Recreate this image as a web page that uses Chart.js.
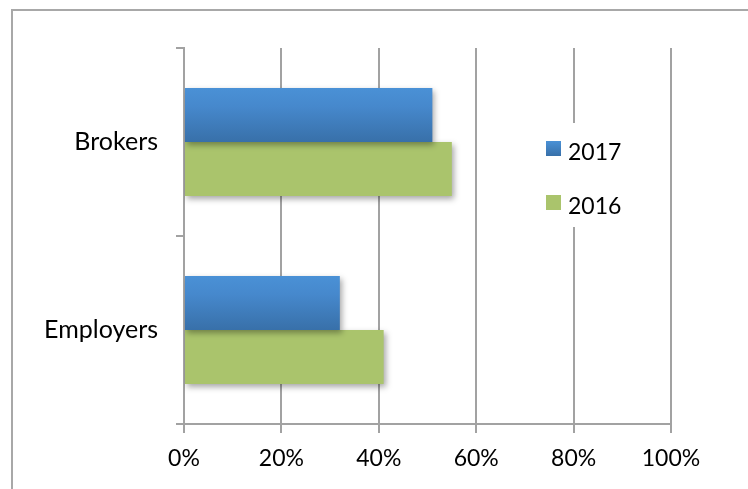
<!DOCTYPE html>
<html>
<head>
<meta charset="utf-8">
<script src="https://cdn.jsdelivr.net/npm/chart.js@4"></script>
<style>
  html, body { margin: 0; padding: 0; background: #ffffff; }
  #wrap { width: 748px; height: 489px; position: relative; }
</style>
</head>
<body>
<div id="wrap"><canvas id="chart" width="748" height="489"></canvas></div>
<script>
// Data
const CATEGORIES = ['Brokers', 'Employers'];
const SERIES_2017 = [51, 32];
const SERIES_2016 = [55, 41];
const SERIES_LABELS = ['2017', '2016'];
const X_TICKS = [0, 20, 40, 60, 80, 100];

// Colors
const BLUE_TOP = '#4a91d6';
const BLUE_BOTTOM = '#3870a9';
const GREEN = '#aac46c';
const GRID_COLOR = '#a2a2a2';
const BORDER_COLOR = '#a8a8a8';
const TEXT_COLOR = '#000000';

// Fonts
const FONT_FAMILY = 'Lato, "Open Sans", sans-serif';
const LABEL_SIZE = 25;
const TICK_SIZE = 23;
const LEGEND_SIZE = 23;

// Layout
const CAT_PCT = 0.575;
const AXIS_LEFT_WIDTH = 184;
const AXIS_BOTTOM_HEIGHT = 65;

const blueGradient = (context) => {
    const chart = context.chart;
    const yScale = chart.scales.y;
    if (!chart.chartArea || !yScale) return BLUE_TOP;
    const band = (yScale.bottom - yScale.top) / CATEGORIES.length;
    const center = yScale.getPixelForValue(context.dataIndex);
    const top = center - band * CAT_PCT / 2;
    const grad = chart.ctx.createLinearGradient(0, top, 0, center);
    grad.addColorStop(0, BLUE_TOP);
    grad.addColorStop(0.35, '#4688cc');
    grad.addColorStop(1, BLUE_BOTTOM);
    return grad;
};

// Plugins
const frame = {
    id: 'frame',
    beforeDraw(chart) {
        const ctx = chart.ctx;
        ctx.save();
        ctx.strokeStyle = BORDER_COLOR;
        ctx.lineWidth = 2;
        ctx.beginPath();
        ctx.moveTo(12, chart.height + 5);
        ctx.lineTo(12, 10);
        ctx.lineTo(chart.width + 5, 10);
        ctx.stroke();
        ctx.restore();
    }
};

const barShadow = {
    id: 'barShadow',
    beforeDatasetDraw(chart) {
        const ctx = chart.ctx;
        ctx.save();
        ctx.shadowColor = 'rgba(0, 0, 0, 0.35)';
        ctx.shadowBlur = 6;
        ctx.shadowOffsetX = 2;
        ctx.shadowOffsetY = 3;
    },
    afterDatasetDraw(chart) {
        chart.ctx.restore();
    }
};

const insideLegend = {
    id: 'insideLegend',
    afterDraw(chart) {
        const ctx = chart.ctx;
        const items = [
            { text: SERIES_LABELS[0], color: BLUE_TOP, y: 141 },
            { text: SERIES_LABELS[1], color: GREEN, y: 195 }
        ];
        ctx.save();
        ctx.fillStyle = '#ffffff';
        ctx.fillRect(536, 123, 96, 104);
        ctx.font = `${LEGEND_SIZE}px ${FONT_FAMILY}`;
        ctx.textBaseline = 'alphabetic';
        for (const item of items) {
            if (item.text === SERIES_LABELS[0]) {
                const g = ctx.createLinearGradient(0, item.y, 0, item.y + 15);
                g.addColorStop(0, BLUE_TOP);
                g.addColorStop(1, BLUE_BOTTOM);
                ctx.fillStyle = g;
            } else {
                ctx.fillStyle = item.color;
            }
            ctx.fillRect(546, item.y, 15, 15);
            ctx.fillStyle = TEXT_COLOR;
            ctx.fillText(item.text, 568, item.y + 19);
        }
        ctx.restore();
    }
};

const data = {
    labels: CATEGORIES,
    datasets: [
        {
            label: SERIES_LABELS[0],
            data: SERIES_2017,
            backgroundColor: blueGradient,
            borderWidth: 0
        },
        {
            label: SERIES_LABELS[1],
            data: SERIES_2016,
            backgroundColor: GREEN,
            borderWidth: 0
        }
    ]
};

const options = {
    indexAxis: 'y',
    responsive: false,
    animation: false,
    events: [],
    layout: {
        padding: { top: 48, right: 77, left: 0, bottom: 0 }
    },
    datasets: {
        bar: {
            categoryPercentage: CAT_PCT,
            barPercentage: 1.0
        }
    },
    scales: {
        x: {
            type: 'linear',
            min: 0,
            max: 100,
            afterBuildTicks: (scale) => {
                scale.ticks = X_TICKS.map(v => ({ value: v }));
            },
            afterFit: (scale) => { scale.height = AXIS_BOTTOM_HEIGHT; },
            border: { display: true, color: GRID_COLOR, width: 2 },
            grid: {
                color: GRID_COLOR,
                lineWidth: 2,
                tickLength: 9,
                drawTicks: true
            },
            ticks: {
                callback: (v) => v + '%',
                color: TEXT_COLOR,
                padding: 12,
                maxRotation: 0,
                font: { family: FONT_FAMILY, size: TICK_SIZE }
            }
        },
        y: {
            type: 'category',
            afterFit: (scale) => { scale.width = AXIS_LEFT_WIDTH; },
            border: { display: true, color: GRID_COLOR, width: 2 },
            grid: {
                offset: true,
                drawOnChartArea: false,
                color: GRID_COLOR,
                lineWidth: 2,
                tickLength: 8
            },
            ticks: {
                color: TEXT_COLOR,
                padding: 18,
                font: { family: FONT_FAMILY, size: LABEL_SIZE }
            }
        }
    },
    plugins: {
        legend: { display: false },
        tooltip: { enabled: false },
        title: { display: false }
    }
};

new Chart(document.getElementById('chart'), {
    type: 'bar',
    data: data,
    options: options,
    plugins: [frame, barShadow, insideLegend]
});
</script>
</body>
</html>
